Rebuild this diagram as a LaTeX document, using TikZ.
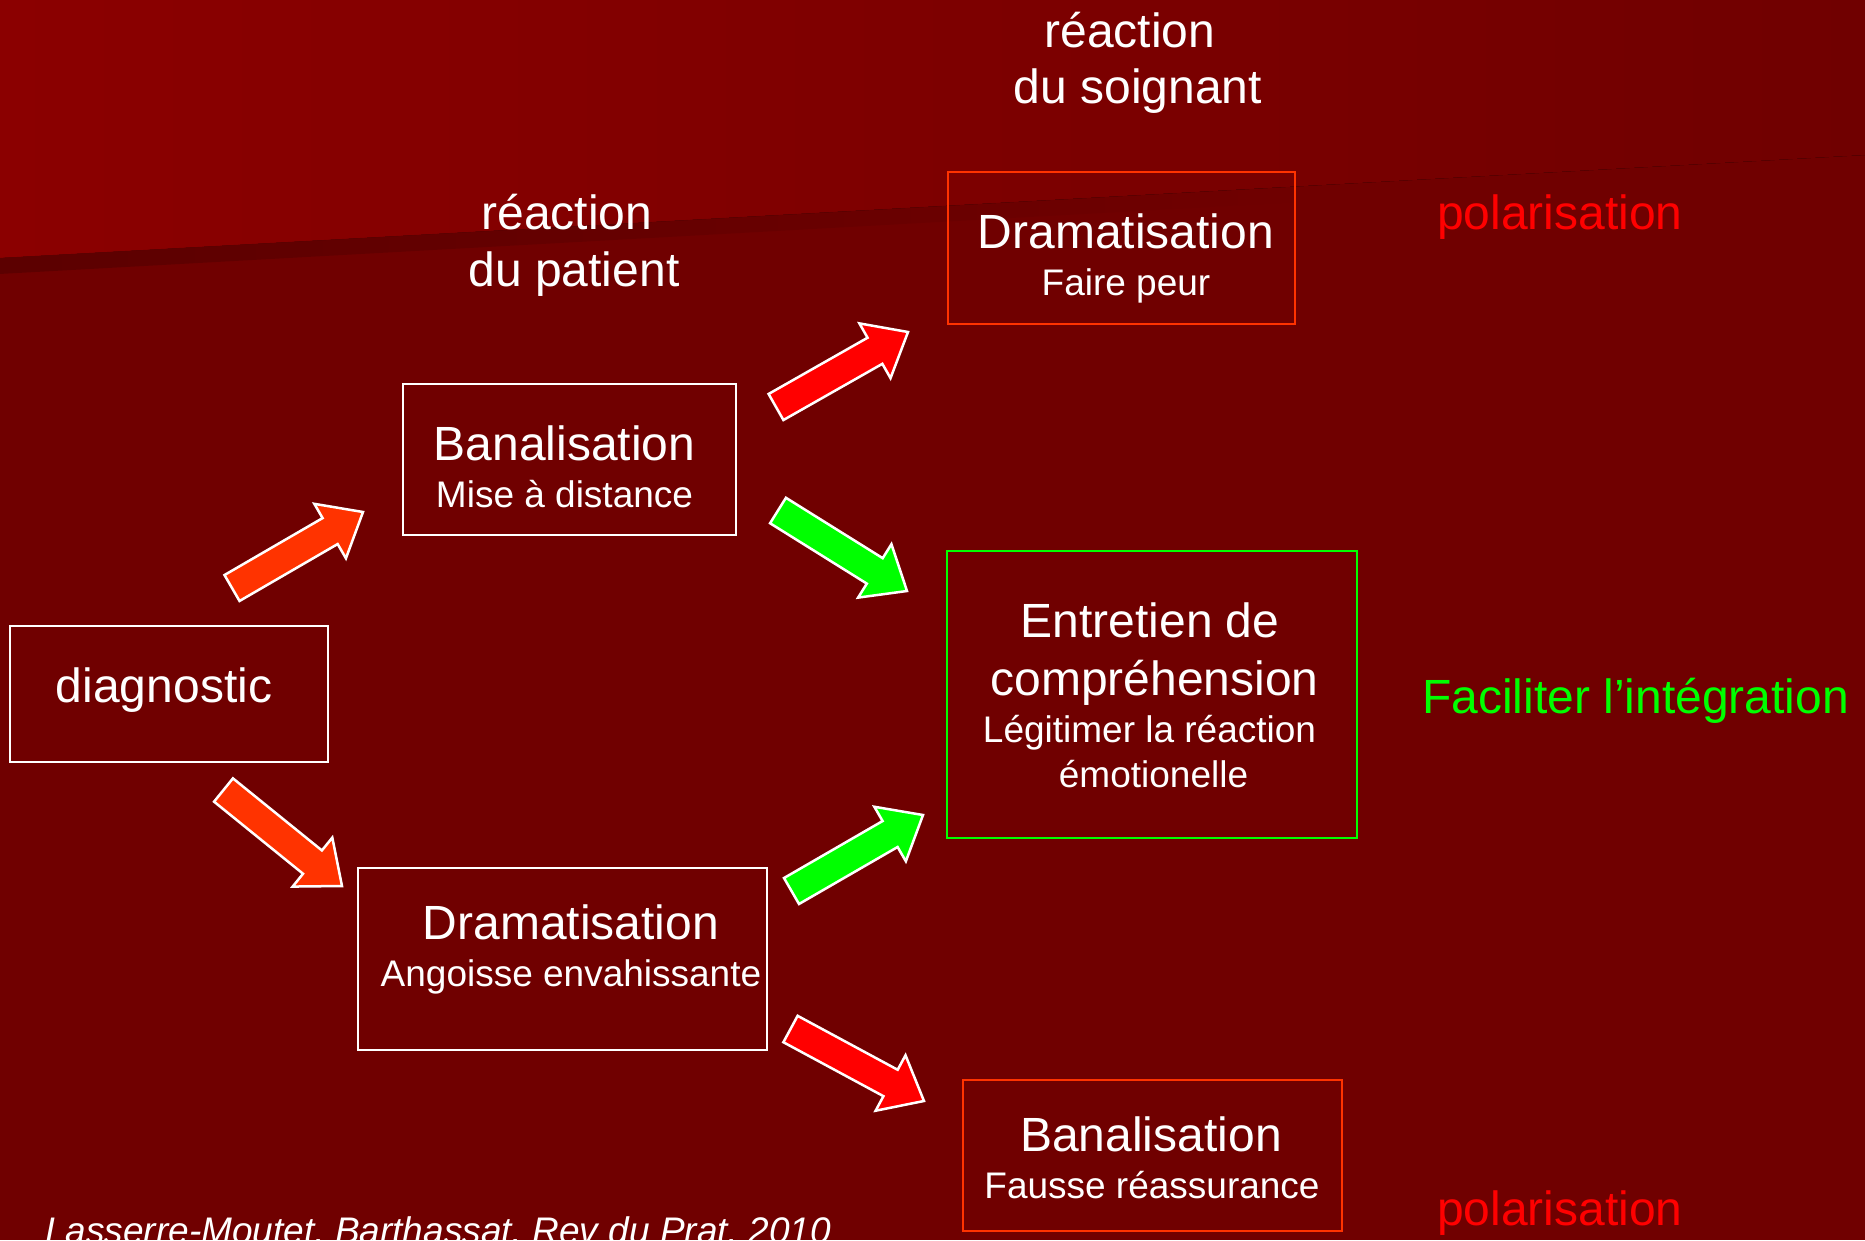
\documentclass[tikz,border=0pt]{standalone}
\usepackage{fontspec}
\setmainfont{Liberation Sans}
\usetikzlibrary{calc,fadings}
\definecolor{bgbase}{RGB}{112,0,0}
\definecolor{bgtop}{RGB}{139,0,0}
\definecolor{bgshade}{RGB}{92,0,0}
\definecolor{orred}{RGB}{255,51,0}
\definecolor{pured}{RGB}{255,0,0}
\definecolor{brgreen}{RGB}{0,255,0}
\newcommand\fbig{\fontsize{48}{56}\selectfont}
\newcommand\fsmall{\fontsize{37}{44}\selectfont}
\newcommand\fcitation{\fontsize{37}{44}\selectfont\itshape}
\tikzset{
  box/.style={draw=white, line width=2.5pt, inner sep=0pt},
  redbox/.style={box, draw=orred},
  greenbox/.style={box, draw=brgreen},
  txt/.style={text=white, inner sep=0pt, anchor=base},
  blkarrow/.style={draw=white, line width=2.5pt, line join=miter},
}
\newcommand\blockarrow[2]{%
  \coordinate (#1b) at ($(#1h)!38pt!(#1t)$);
  \draw[blkarrow, fill=#2]
    ($(#1t)!15pt!90:(#1h)$) -- ($(#1b)!15pt!90:(#1h)$) -- ($(#1b)!31.5pt!90:(#1h)$)
    -- (#1h) -- ($(#1b)!31.5pt!-90:(#1h)$) -- ($(#1b)!15pt!-90:(#1h)$)
    -- ($(#1t)!15pt!-90:(#1h)$) -- cycle;}
\begin{document}
\begin{tikzpicture}[x=1pt,y=-1pt]
\useasboundingbox (0,0) rectangle (1865,1240);
% background
\fill[bgbase] (0,0) rectangle (1865,1240);
\fill[left color=bgtop, right color=bgbase] (0,0) -- (1865,0) -- (1865,155) -- (0,258) -- cycle;
\begin{scope}[shift={(0,258)}, rotate=3.16]
  \fill[bgshade, path fading=east] (0,0) rectangle (1300,16);
\end{scope}

% headers
\node[txt] (hp1) at (567,229) {\fbig réaction};
\node[txt] (hp2) at (574,286) {\fbig du patient};
\node[txt] (hs1) at (1130,47) {\fbig réaction};
\node[txt] (hs2) at (1138,103) {\fbig du soignant};

% boxes
\node[box, minimum width=318, minimum height=136] (diag) at (169,694) {};
\node[txt] (diagT) at (164,702) {\fbig diagnostic};

\node[box, minimum width=333, minimum height=151] (banal) at (569.5,459.5) {};
\node[txt] (banalT1) at (564.5,460) {\fbig Banalisation};
\node[txt] (banalT2) at (564.5,507) {\fsmall Mise à distance};

\node[box, minimum width=409, minimum height=182] (dram) at (562.5,959) {};
\node[txt] (dramT1) at (571,939.5) {\fbig Dramatisation};
\node[txt] (dramT2) at (571,986.5) {\fsmall Angoisse envahissante};

\node[redbox, minimum width=347, minimum height=152] (peur) at (1121.5,248) {};
\node[txt] (peurT1) at (1126,248) {\fbig Dramatisation};
\node[txt] (peurT2) at (1126,295) {\fsmall Faire peur};

\node[greenbox, minimum width=410, minimum height=287] (entre) at (1152,694.5) {};
\node[txt] (entreT1) at (1150,637) {\fbig Entretien de};
\node[txt] (entreT2) at (1154.5,695) {\fbig compréhension};
\node[txt] (entreT3) at (1149.5,742) {\fsmall Légitimer la réaction};
\node[txt] (entreT4) at (1153.5,787) {\fsmall émotionelle};

\node[redbox, minimum width=379, minimum height=151] (fausse) at (1152.5,1155.5) {};
\node[txt] (fausseT1) at (1151,1151.5) {\fbig Banalisation};
\node[txt] (fausseT2) at (1152,1198.5) {\fsmall Fausse réassurance};

% side labels
\node[txt, anchor=base west, text=pured] (pol1) at (1437,229) {\fbig polarisation};
\node[txt, anchor=base west, text=brgreen] (facil) at (1422,713) {\fbig Faciliter l’intégration};
\node[txt, anchor=base west, text=pured] (pol2) at (1437,1225) {\fbig polarisation};

% citation
\node[txt, anchor=base west] (cite) at (45,1243) {\fcitation Lasserre-Moutet, Barthassat, Rev du Prat, 2010};

% block arrows
\coordinate (a1t) at (232,588);    \coordinate (a1h) at (363,512);
\coordinate (a2t) at (223.5,790);  \coordinate (a2h) at (342,886);
\coordinate (a3t) at (776,407);    \coordinate (a3h) at (908,332);
\coordinate (a4t) at (778,510.5);  \coordinate (a4h) at (907,591);
\coordinate (a5t) at (791.5,891);  \coordinate (a5h) at (923,815);
\coordinate (a6t) at (790.5,1029); \coordinate (a6h) at (924,1101);
\blockarrow{a1}{orred}
\blockarrow{a2}{orred}
\blockarrow{a3}{pured}
\blockarrow{a4}{brgreen}
\blockarrow{a5}{brgreen}
\blockarrow{a6}{pured}
\end{tikzpicture}
\end{document}
